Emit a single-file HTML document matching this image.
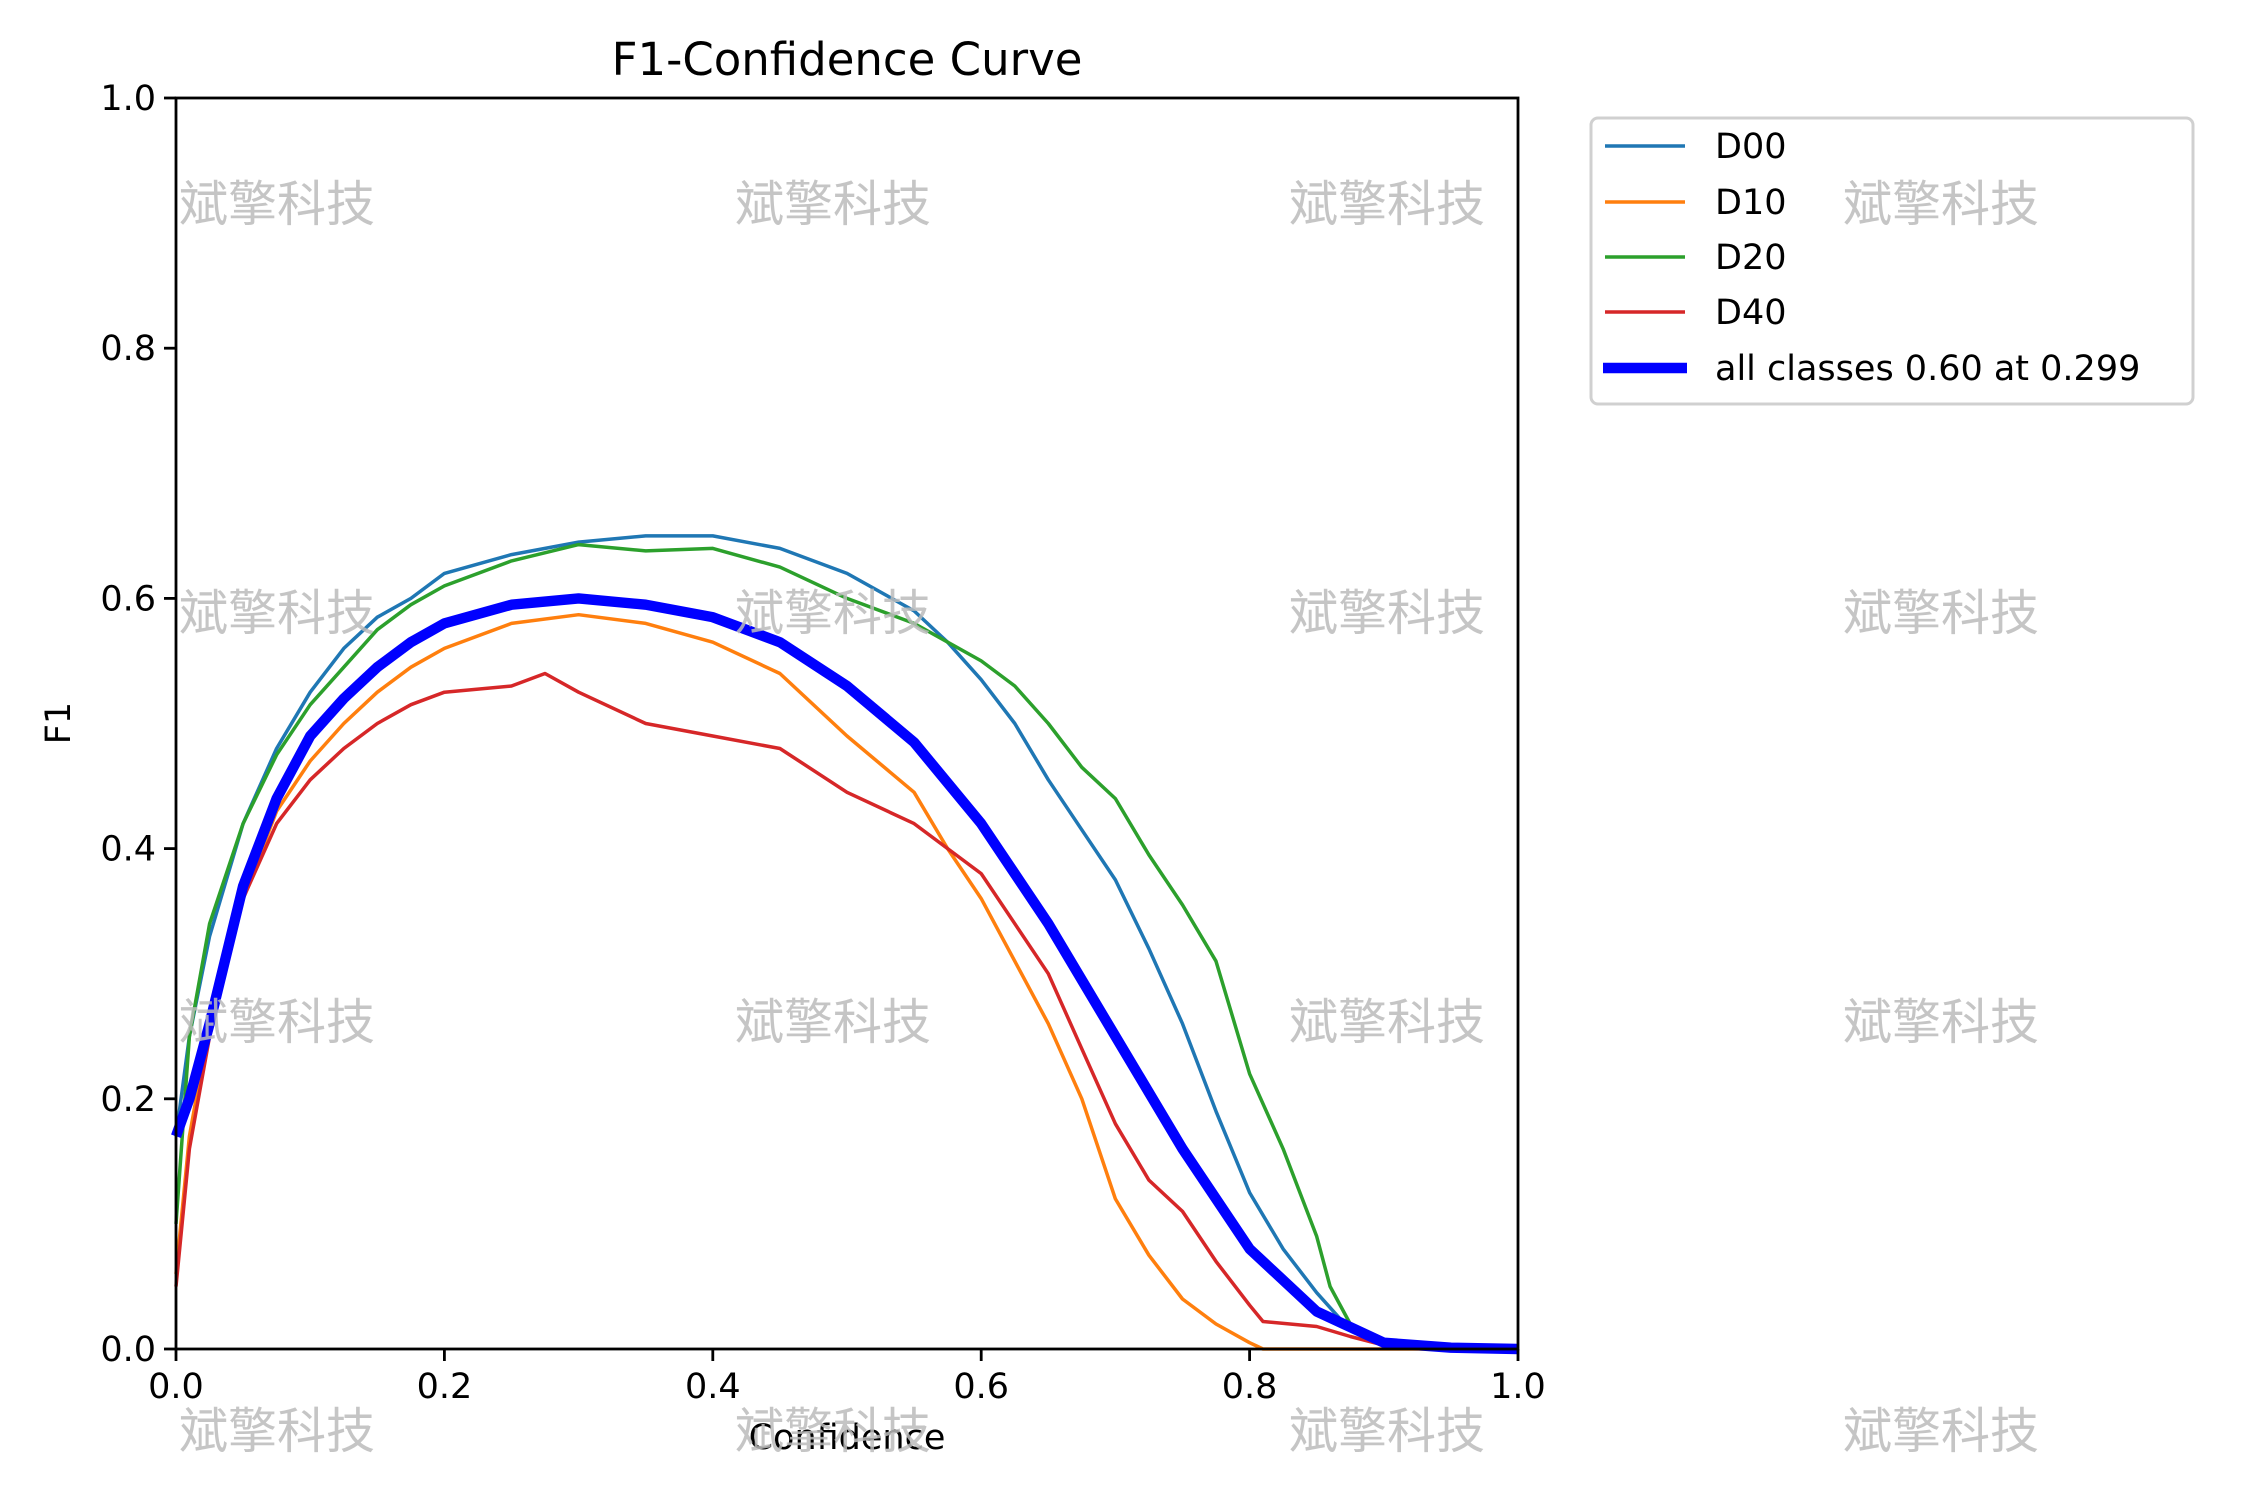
<!DOCTYPE html>
<html><head><meta charset="utf-8"><style>
html,body{margin:0;padding:0;background:#fff;}
svg{display:block;font-family:"DejaVu Sans","Liberation Sans",sans-serif;}
</style></head><body>
<svg id="chart" width="2250" height="1500" viewBox="0 0 2250 1500" xmlns="http://www.w3.org/2000/svg">
<rect width="2250" height="1500" fill="#fff"/>
<text x="847" y="75" font-size="45" text-anchor="middle">F1-Confidence Curve</text>
<g id="plot"></g>
<text x="847" y="1449" font-size="35" text-anchor="middle">Confidence</text>
<text x="0" y="0" font-size="35" text-anchor="middle" transform="translate(70,723) rotate(-90)">F1</text>
<g>
<rect x="1591" y="118" width="602" height="286" rx="7" fill="#fff" stroke="#d0d0d0" stroke-width="3"/>
<line x1="1605" y1="146" x2="1685" y2="146" stroke="#1f77b4" stroke-width="3.5"/>
<text x="1715" y="158" font-size="35">D00</text>
<line x1="1605" y1="202" x2="1685" y2="202" stroke="#ff7f0e" stroke-width="3.5"/>
<text x="1715" y="214" font-size="35">D10</text>
<line x1="1605" y1="257" x2="1685" y2="257" stroke="#2ca02c" stroke-width="3.5"/>
<text x="1715" y="269" font-size="35">D20</text>
<line x1="1605" y1="312" x2="1685" y2="312" stroke="#d62728" stroke-width="3.5"/>
<text x="1715" y="324" font-size="35">D40</text>
<line x1="1603" y1="368" x2="1687" y2="368" stroke="#0000ff" stroke-width="10.4"/>
<text x="1715" y="380" font-size="35">all classes 0.60 at 0.299</text>
</g>
<g id="wm" font-family="'Noto Sans CJK SC',sans-serif" font-size="49" fill="#bbbbbb" fill-opacity="0.85" text-anchor="middle"></g>
</svg>
<script>
const xTicks=[0,0.2,0.4,0.6,0.8,1.0];
const yTicks=[0,0.2,0.4,0.6,0.8,1.0];
const xTickLabels=["0.0","0.2","0.4","0.6","0.8","1.0"];
const yTickLabels=["0.0","0.2","0.4","0.6","0.8","1.0"];
const seriesNames=["D00","D10","D20","D40"];
const seriesColors=["#1f77b4","#ff7f0e","#2ca02c","#d62728"];
const d00X=[0,0.01,0.025,0.05,0.075,0.1,0.125,0.15,0.175,0.2,0.25,0.3,0.35,0.4,0.45,0.5,0.55,0.575,0.6,0.625,0.65,0.675,0.7,0.725,0.75,0.775,0.8,0.825,0.85,0.875,0.9,1.0];
const d00Y=[0.17,0.25,0.33,0.42,0.48,0.525,0.56,0.585,0.6,0.62,0.635,0.645,0.65,0.65,0.64,0.62,0.59,0.565,0.535,0.5,0.455,0.415,0.375,0.32,0.26,0.19,0.125,0.08,0.045,0.015,0.003,0];
const d10X=[0,0.01,0.025,0.05,0.075,0.1,0.125,0.15,0.175,0.2,0.25,0.3,0.35,0.4,0.45,0.5,0.55,0.575,0.6,0.625,0.65,0.675,0.7,0.725,0.75,0.775,0.8,0.81,1.0];
const d10Y=[0.06,0.17,0.26,0.36,0.43,0.47,0.5,0.525,0.545,0.56,0.58,0.587,0.58,0.565,0.54,0.49,0.445,0.4,0.36,0.31,0.26,0.2,0.12,0.075,0.04,0.02,0.005,0,0];
const d20X=[0,0.01,0.025,0.05,0.075,0.1,0.125,0.15,0.175,0.2,0.25,0.3,0.35,0.4,0.45,0.5,0.55,0.6,0.625,0.65,0.675,0.7,0.725,0.75,0.775,0.8,0.825,0.85,0.86,0.875,0.9,1.0];
const d20Y=[0.1,0.25,0.34,0.42,0.475,0.515,0.545,0.575,0.595,0.61,0.63,0.643,0.638,0.64,0.625,0.6,0.58,0.55,0.53,0.5,0.465,0.44,0.395,0.355,0.31,0.22,0.16,0.09,0.05,0.02,0.003,0];
const d40X=[0,0.01,0.025,0.05,0.075,0.1,0.125,0.15,0.175,0.2,0.25,0.275,0.3,0.35,0.4,0.45,0.5,0.55,0.6,0.625,0.65,0.675,0.7,0.725,0.75,0.775,0.8,0.81,0.85,0.875,0.9,1.0];
const d40Y=[0.05,0.16,0.25,0.36,0.42,0.455,0.48,0.5,0.515,0.525,0.53,0.54,0.525,0.5,0.49,0.48,0.445,0.42,0.38,0.34,0.3,0.24,0.18,0.135,0.11,0.07,0.035,0.022,0.018,0.01,0.003,0];
const allX=[0,0.01,0.025,0.05,0.075,0.1,0.125,0.15,0.175,0.2,0.25,0.3,0.35,0.4,0.45,0.5,0.55,0.6,0.65,0.7,0.75,0.8,0.85,0.9,0.95,1.0];
const allY=[0.17,0.2,0.26,0.37,0.44,0.49,0.52,0.545,0.565,0.58,0.595,0.6,0.595,0.585,0.565,0.53,0.485,0.42,0.34,0.25,0.16,0.08,0.03,0.005,0.001,0];
const wmText="斌擎科技";
const L=176,R=1518,T=98,B=1349;
const sx=v=>L+v*(R-L), sy=v=>B-v*(B-T);
const NS="http://www.w3.org/2000/svg";
const plot=document.getElementById('plot');
function mk(tag,attrs,parent){const e=document.createElementNS(NS,tag);for(const k in attrs)e.setAttribute(k,attrs[k]);parent.appendChild(e);return e;}
const allSeries=[[d00X,d00Y],[d10X,d10Y],[d20X,d20Y],[d40X,d40Y]];
allSeries.forEach((s,i)=>{
  const p=mk('path',{d:s[0].map((x,j)=>(j?'L':'M')+sx(x).toFixed(1)+','+sy(s[1][j]).toFixed(1)).join(''),fill:'none',stroke:seriesColors[i],'stroke-width':3.5,'stroke-linejoin':'round'},plot);
  
  
});
const ap=mk('path',{d:allX.map((x,j)=>(j?'L':'M')+sx(x).toFixed(1)+','+sy(allY[j]).toFixed(1)).join(''),fill:'none',stroke:'#0000ff','stroke-width':10.4,'stroke-linejoin':'round'},plot);


const fr=mk('rect',{x:L,y:T,width:R-L,height:B-T,fill:'none',stroke:'#000','stroke-width':2.8},plot);


xTicks.forEach((v,i)=>{
  mk('line',{x1:sx(v),x2:sx(v),y1:B,y2:B+12,stroke:'#000','stroke-width':2.8},plot);
  const t=mk('text',{x:sx(v),y:B+49,'font-size':35,'text-anchor':'middle'},plot);
  t.textContent=xTickLabels[i];
  
  
});
yTicks.forEach((v,i)=>{
  mk('line',{x1:L-12,x2:L,y1:sy(v),y2:sy(v),stroke:'#000','stroke-width':2.8},plot);
  const t=mk('text',{x:L-20,y:sy(v)+12,'font-size':35,'text-anchor':'end'},plot);
  t.textContent=yTickLabels[i];
  
  
});
const wm=document.getElementById('wm');
[277,833,1387,1941].forEach(cx=>[204,613,1022,1431].forEach(cy=>{
  const t=mk('text',{x:cx,y:cy+17},wm);
  t.textContent=wmText;
  
  
}));
</script>
</body></html>
